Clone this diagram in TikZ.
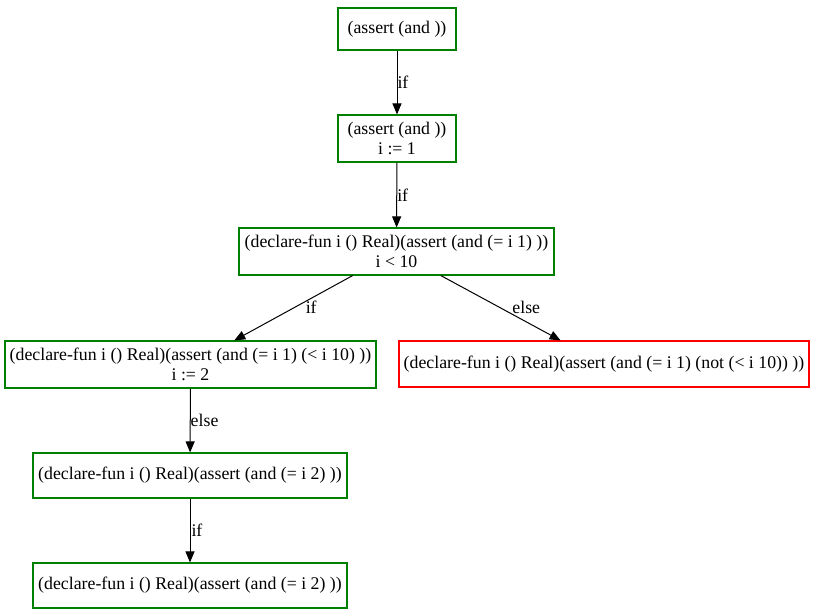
\documentclass[tikz,border=0pt]{standalone}
\usepackage{fontspec}
\setmainfont{Liberation Serif}
\usetikzlibrary{arrows.meta}
\definecolor{gvgreen}{RGB}{0,128,0}
\definecolor{gvred}{RGB}{255,0,0}
\begin{document}
\begin{tikzpicture}[x=1pt,y=-1pt,
  every node/.style={font=\fontsize{17.8}{19.5}\selectfont},
  box/.style={draw=gvgreen, line width=1.1pt, inner sep=0pt, align=center},
  conn/.style={-{Triangle[length=11pt,width=9pt]}, line width=1pt},
  lab/.style={anchor=west, inner sep=0pt}]
\useasboundingbox (0,0) rectangle (815,614);
\node[box, minimum width=118pt, minimum height=42pt] (n1) at (397,29) {(assert (and ))};
\node[box, minimum width=118pt, minimum height=47pt] (n2) at (397,138.5) {(assert (and ))\\i := 1};
\node[box, minimum width=315pt, minimum height=47pt] (n3) at (396.5,251.5) {(declare-fun i () Real)(assert (and (= i 1) ))\\i < 10};
\node[box, minimum width=371pt, minimum height=47pt] (n4) at (190.5,364.5) {(declare-fun i () Real)(assert (and (= i 1) (< i 10) ))\\i := 2};
\node[box, draw=gvred, minimum width=410pt, minimum height=46pt] (n5) at (604,364) {(declare-fun i () Real)(assert (and (= i 1) (not (< i 10)) ))};
\node[box, minimum width=314pt, minimum height=45pt] (n6) at (190,475.5) {(declare-fun i () Real)(assert (and (= i 2) ))};
\node[box, minimum width=314pt, minimum height=45pt] (n7) at (190,585.5) {(declare-fun i () Real)(assert (and (= i 2) ))};
\draw[conn] (n1) -- node[lab, pos=0.5] (l1) {if} (n2);
\draw[conn] (n2) -- node[lab, pos=0.5] (l2) {if} (n3);
\draw[conn] (n3) -- node[lab, pos=0.485, xshift=10pt] (l3) {if} (n4);
\draw[conn] (n3) -- node[lab, pos=0.485, xshift=13pt] (l4) {else} (n5);
\draw[conn] (n4) -- node[lab, pos=0.5] (l5) {else} (n6);
\draw[conn] (n6) -- node[lab, pos=0.5, xshift=1pt] (l6) {if} (n7);
\end{tikzpicture}
\end{document}
